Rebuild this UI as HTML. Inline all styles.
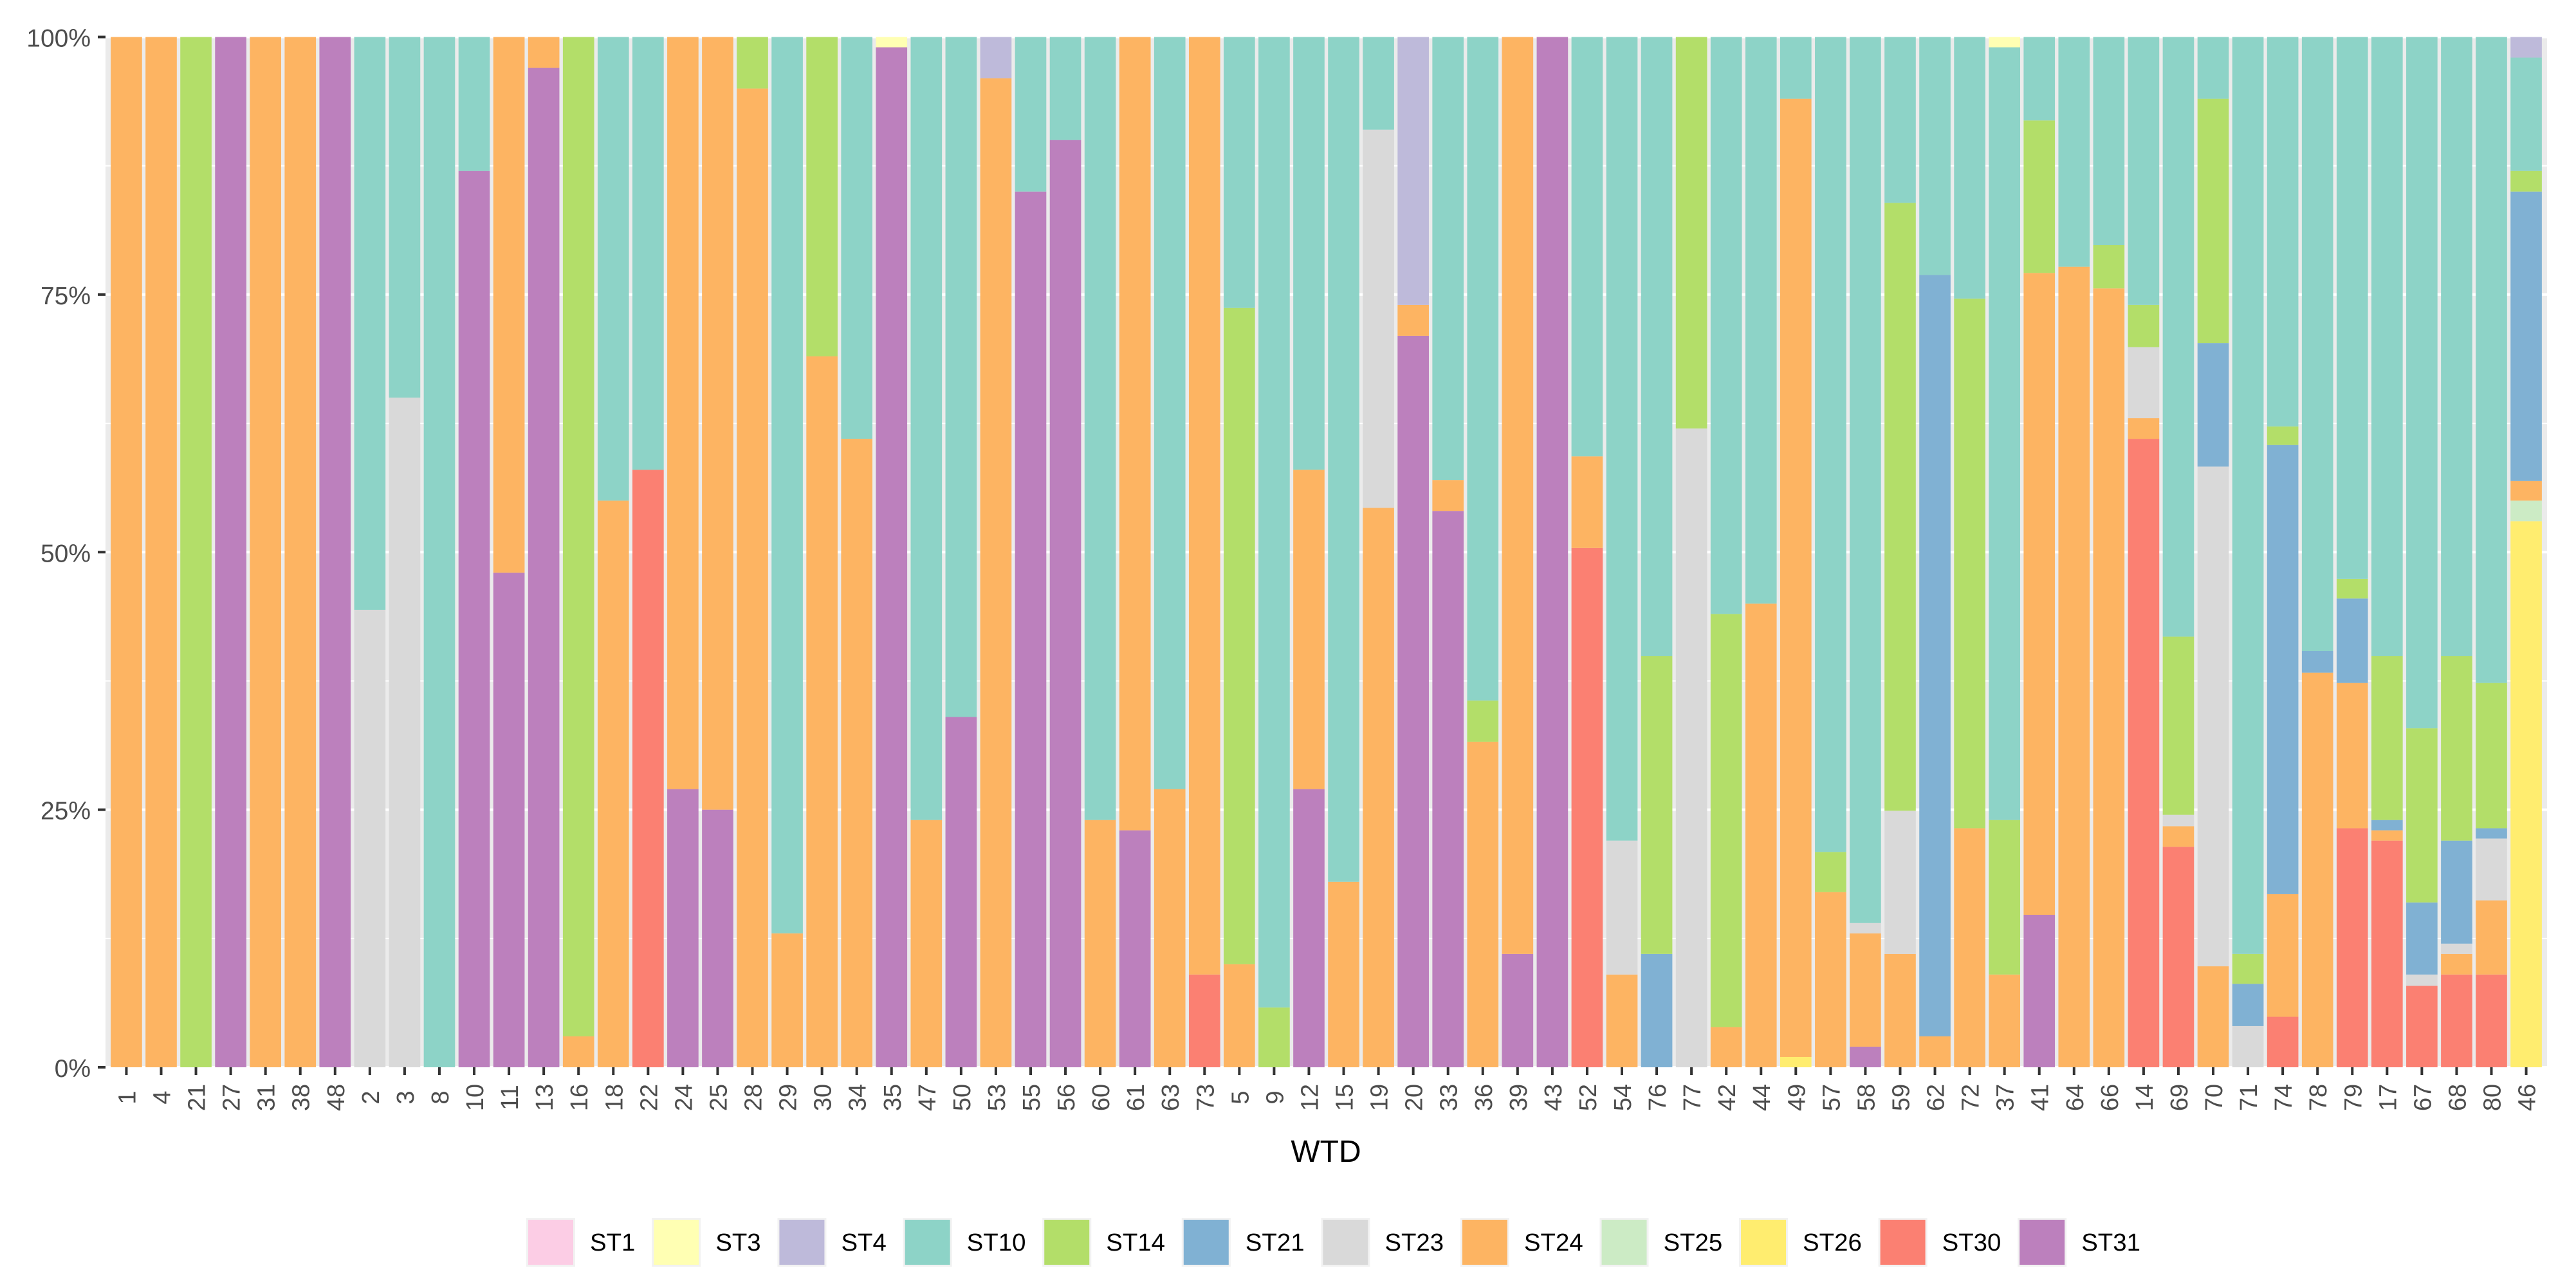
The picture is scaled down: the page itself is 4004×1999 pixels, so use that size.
<!DOCTYPE html>
<html lang="en">
<head>
<meta charset="utf-8">
<title>ST composition by WTD</title>
<style>
html,body{margin:0;padding:0;background:#fff;width:4004px;height:1999px;overflow:hidden}
svg{display:block}
text{font-family:"Liberation Sans",sans-serif}
</style>
</head>
<body>
<svg id="chart" xmlns="http://www.w3.org/2000/svg" width="4004" height="1999" viewBox="0 0 4004 1999">
  <rect x="0" y="0" width="4004" height="1999" fill="#ffffff"/>
  <rect x="164" y="57.5" width="3795" height="1601.5" fill="#ebebeb"/>
  <g id="grid"></g>
  <g id="bars"></g>
  <g id="y-axis"></g>
  <g id="x-axis"></g>
  <text x="2061" y="1806" font-size="48" text-anchor="middle" fill="#000000">WTD</text>
  <g id="legend"></g>
</svg>
<script>
const categories = ["1","4","21","27","31","38","48","2","3","8",
  "10","11","13","16","18","22","24","25","28","29",
  "30","34","35","47","50","53","55","56","60","61",
  "63","73","5","9","12","15","19","20","33","36",
  "39","43","52","54","76","77","42","44","49","57",
  "58","59","62","72","37","41","64","66","14","69",
  "70","71","74","78","79","17","67","68","80","46"];
const yTickValues = [0, 25, 50, 75, 100];
const yTickLabels = ["0%", "25%", "50%", "75%", "100%"];
const seriesNames = ["ST1","ST3","ST4","ST10","ST14","ST21","ST23","ST24","ST25","ST26","ST30","ST31"];
const seriesColors = ["#FCCDE5","#FFFFB3","#BEBADA","#8DD3C7","#B3DE69","#80B1D3","#D9D9D9","#FDB462","#CCEBC5","#FFED6F","#FB8072","#BC80BD"];

const st1 = [0,0,0,0,0,0,0,0,0,0, 0,0,0,0,0,0,0,0,0,0, 0,0,0,0,0,0,0,0,0,0, 0,0,0,0,0,0,0,0,0,0, 0,0,0,0,0,0,0,0,0,0, 0,0,0,0,0,0,0,0,0,0, 0,0,0,0,0,0,0,0,0,0];
const st3 = [0,0,0,0,0,0,0,0,0,0, 0,0,0,0,0,0,0,0,0,0, 0,0,1,0,0,0,0,0,0,0, 0,0,0,0,0,0,0,0,0,0, 0,0,0,0,0,0,0,0,0,0, 0,0,0,0,1,0,0,0,0,0, 0,0,0,0,0,0,0,0,0,0];
const st4 = [0,0,0,0,0,0,0,0,0,0, 0,0,0,0,0,0,0,0,0,0, 0,0,0,0,0,4,0,0,0,0, 0,0,0,0,0,0,0,26,0,0, 0,0,0,0,0,0,0,0,0,0, 0,0,0,0,0,0,0,0,0,0, 0,0,0,0,0,0,0,0,0,2];
const st10 = [0,0,0,0,0,0,0,55.6,35,100,
  13,0,0,0,45,42,0,0,0,87,
  0,39,0,76,66,0,15,10,76,0,
  73,0,26.3,94.2,42,82,9,0,43,64.4,
  0,0,40.7,78,60.1,0,56,55,6,79.1,
  86,16.1,23.1,25.4,75,8.1,22.3,20.2,26,58.2,
  6,89,37.8,59.6,52.6,60.1,67.1,60.1,62.7,11];
const st14 = [0,0,100,0,0,0,0,0,0,0,
  0,0,0,97,0,0,0,0,5,0,
  31,0,0,0,0,0,0,0,0,0,
  0,0,63.7,5.8,0,0,0,0,0,4,
  0,0,0,0,28.9,38,40.1,0,0,3.9,
  0,59,0,51.4,15,14.8,0,4.2,4.1,17.3,
  23.7,2.9,1.8,0,1.9,15.9,16.9,17.9,14.1,2];
const st21 = [0,0,0,0,0,0,0,0,0,0,
  0,0,0,0,0,0,0,0,0,0,
  0,0,0,0,0,0,0,0,0,0,
  0,0,0,0,0,0,0,0,0,0,
  0,0,0,0,11,0,0,0,0,0,
  0,0,73.9,0,0,0,0,0,0,0,
  12,4.1,43.6,2.1,8.2,1,7,10,1,28.1];
const st23 = [0,0,0,0,0,0,0,44.4,65,0,
  0,0,0,0,0,0,0,0,0,0,
  0,0,0,0,0,0,0,0,0,0,
  0,0,0,0,0,0,36.7,0,0,0,
  0,0,0,13,0,62,0,0,0,0,
  1,13.9,0,0,0,0,0,0,6.9,1.1,
  48.5,4,0,0,0,0,1.1,1,6,0];
const st24 = [100,100,0,0,100,100,0,0,0,0,
  0,52,3,3,55,0,73,75,95,13,
  69,61,0,24,0,96,0,0,24,77,
  27,91,10,0,31,18,54.3,3,3,31.6,
  89,0,8.9,9,0,0,3.9,45,93,17,
  11,11,3,23.2,9,62.3,77.7,75.6,2,2,
  9.8,0,11.9,38.3,14.1,1,0,2,7.2,1.9];
const st25 = [0,0,0,0,0,0,0,0,0,0, 0,0,0,0,0,0,0,0,0,0, 0,0,0,0,0,0,0,0,0,0, 0,0,0,0,0,0,0,0,0,0, 0,0,0,0,0,0,0,0,0,0, 0,0,0,0,0,0,0,0,0,0, 0,0,0,0,0,0,0,0,0,2];
const st26 = [0,0,0,0,0,0,0,0,0,0, 0,0,0,0,0,0,0,0,0,0, 0,0,0,0,0,0,0,0,0,0, 0,0,0,0,0,0,0,0,0,0, 0,0,0,0,0,0,0,0,1,0, 0,0,0,0,0,0,0,0,0,0, 0,0,0,0,0,0,0,0,0,53];
const st30 = [0,0,0,0,0,0,0,0,0,0,
  0,0,0,0,0,58,0,0,0,0,
  0,0,0,0,0,0,0,0,0,0,
  0,9,0,0,0,0,0,0,0,0,
  0,0,50.4,0,0,0,0,0,0,0,
  0,0,0,0,0,0,0,0,61,21.4,
  0,0,4.9,0,23.2,22,7.9,9,9,0];
const st31 = [0,0,0,100,0,0,100,0,0,0,
  87,48,97,0,0,0,27,25,0,0,
  0,0,99,0,34,0,85,90,0,23,
  0,0,0,0,27,0,0,71,54,0,
  11,100,0,0,0,0,0,0,0,0,
  2,0,0,0,0,14.8,0,0,0,0,
  0,0,0,0,0,0,0,0,0,0];
const seriesValues = [st1, st3, st4, st10, st14, st21, st23, st24, st25, st26, st30, st31];

const NS = "http://www.w3.org/2000/svg";
const panel = {left: 164, right: 3959, top: 57.5, bottom: 1659};
const band = (panel.right - panel.left) / (categories.length - 1 + 1.2);
function xCenter(i) { return panel.left + band * (i + 0.6); }
function yScale(v) { return panel.bottom - (panel.bottom - panel.top) * v / 100; }
function make(tag, attrs, parent) {
  const el = document.createElementNS(NS, tag);
  for (const k in attrs) el.setAttribute(k, attrs[k]);
  parent.appendChild(el);
  return el;
}

const gridG = document.getElementById("grid");
for (let m = 0; m < yTickValues.length - 1; m++) {
  const v = (yTickValues[m] + yTickValues[m + 1]) / 2;
  const line = make("line", {x1: panel.left, x2: panel.right, y1: yScale(v), y2: yScale(v), stroke: "#ffffff", "stroke-width": 2}, gridG);
  
  
}
yTickValues.forEach(function (v) {
  const line = make("line", {x1: panel.left, x2: panel.right, y1: yScale(v), y2: yScale(v), stroke: "#ffffff", "stroke-width": 4}, gridG);
  
  
});

const barsG = document.getElementById("bars");
const barWidth = band * 0.9;
categories.forEach(function (cat, i) {
  let total = 0;
  seriesValues.forEach(function (s) { total += s[i]; });
  let cum = 0;
  for (let s = seriesValues.length - 1; s >= 0; s--) {
    const val = seriesValues[s][i];
    if (val <= 0) continue;
    const y0 = yScale(cum / total * 100);
    cum += val;
    const y1 = yScale(cum / total * 100);
    const rect = make("rect", {x: xCenter(i) - barWidth / 2, y: y1, width: barWidth, height: y0 - y1, fill: seriesColors[s]}, barsG);
    
    
  }
});

const yG = document.getElementById("y-axis");
yTickValues.forEach(function (v, i) {
  const tick = make("line", {x1: 152, x2: panel.left, y1: yScale(v), y2: yScale(v), stroke: "#333333", "stroke-width": 4}, yG);
  
  
  const label = make("text", {x: 141, y: yScale(v) + 15, "font-size": 39, "text-anchor": "end", fill: "#4d4d4d"}, yG);
  label.textContent = yTickLabels[i];
  
  
});

const xG = document.getElementById("x-axis");
categories.forEach(function (cat, i) {
  const x = xCenter(i);
  const tick = make("line", {x1: x, x2: x, y1: panel.bottom, y2: panel.bottom + 12, stroke: "#333333", "stroke-width": 4}, xG);
  
  
  const label = make("text", {transform: "translate(" + (x + 14) + ",1706) rotate(-90)", "font-size": 38, "text-anchor": "middle", fill: "#4d4d4d"}, xG);
  label.textContent = cat;
  
  
});

const legendG = document.getElementById("legend");
let keyX = 821;
seriesNames.forEach(function (name, i) {
  const bg = make("rect", {x: keyX - 3, y: 1893, width: 76, height: 76, fill: "#f2f2f2"}, legendG);
  
  
  const key = make("rect", {x: keyX, y: 1896, width: 70, height: 70, fill: seriesColors[i]}, legendG);
  
  
  const label = make("text", {x: keyX + 96, y: 1944, "font-size": 38.4, fill: "#000000"}, legendG);
  label.textContent = name;
  
  
  keyX += 96 + label.getComputedTextLength() + 28.8;
});
</script>
</body>
</html>
